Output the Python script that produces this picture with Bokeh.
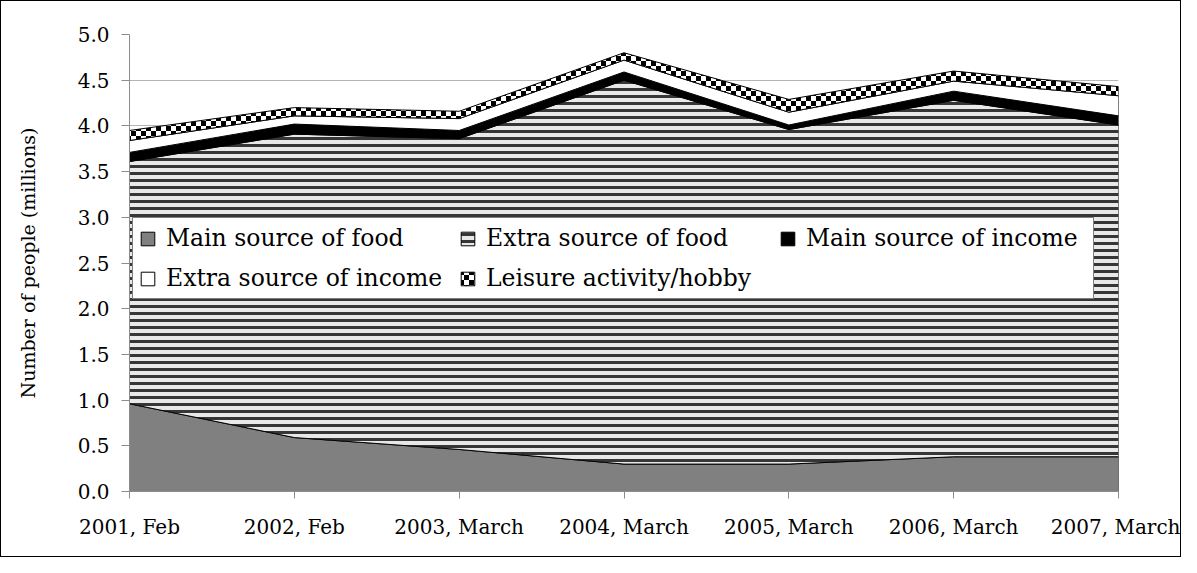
import base64
import numpy as np
from bokeh.plotting import figure
from bokeh.models import (Range1d, FixedTicker, Legend, LegendItem, ImageURLTexture,
                          PrintfTickFormatter)
from bokeh.embed import file_html
from bokeh.resources import INLINE

# ---------------- data ----------------
categories = ["2001, Feb", "2002, Feb", "2003, March", "2004, March",
              "2005, March", "2006, March", "2007, March"]
main_food = [0.96, 0.59, 0.46, 0.30, 0.30, 0.38, 0.38]
extra_food = [2.65, 3.32, 3.40, 4.20, 3.66, 3.90, 3.63]
main_income = [0.10, 0.11, 0.09, 0.09, 0.05, 0.10, 0.10]
extra_income = [0.13, 0.09, 0.13, 0.13, 0.14, 0.11, 0.22]
leisure = [0.11, 0.09, 0.08, 0.08, 0.14, 0.11, 0.10]
series_names = ["Main source of food", "Extra source of food", "Main source of income",
                "Extra source of income", "Leisure activity/hobby"]
y_ticks = [0.0, 0.5, 1.0, 1.5, 2.0, 2.5, 3.0, 3.5, 4.0, 4.5, 5.0]
y_label = "Number of people (millions)"

FONT = "DejaVu Serif"

# checkerboard texture
svg = ("<svg xmlns='http://www.w3.org/2000/svg' width='10' height='10'>"
       "<rect width='10' height='10' fill='white'/>"
       "<rect width='5' height='5' fill='black'/>"
       "<rect x='5' y='5' width='5' height='5' fill='black'/></svg>")
checker_url = "data:image/svg+xml;base64," + base64.b64encode(svg.encode()).decode()

p = figure(width=1181, height=557, x_range=Range1d(0, 6), y_range=Range1d(0, 5),
           output_backend="svg", toolbar_location=None,
           min_border_left=128, min_border_right=64, min_border_top=33, min_border_bottom=67)
p.styles = {"border": "1px solid black"}
p.outline_line_color = None
p.background_fill_color = "white"
p.border_fill_color = "white"

x = np.arange(len(categories))
layers = np.array([main_food, extra_food, main_income, extra_income, leisure])
tops = np.cumsum(layers, axis=0)
bottoms = np.vstack([np.zeros(len(x)), tops[:-1]])

styles = [
    dict(fill_color="#808080"),
    dict(fill_color="#e8e8e8", hatch_pattern="horizontal_line", hatch_color="#363636",
         hatch_scale=7, hatch_weight=3),
    dict(fill_color="black"),
    dict(fill_color="white"),
    dict(fill_color="white", hatch_pattern="checker",
         hatch_extra={"checker": ImageURLTexture(url=checker_url, repetition="repeat")}),
]

items = []
for i, name in enumerate(series_names):
    xs = np.concatenate([x, x[::-1]])
    ys = np.concatenate([tops[i], bottoms[i][::-1]])
    r = p.patch(xs, ys, line_color="black", line_width=1, **styles[i])
    items.append(LegendItem(label=name, renderers=[r]))

# axes
p.xgrid.grid_line_color = None
p.ygrid.grid_line_color = "#b4b4b4"
p.ygrid.grid_line_width = 1
p.ygrid.ticker = FixedTicker(ticks=y_ticks)

p.xaxis.ticker = FixedTicker(ticks=list(x))
p.xaxis.major_label_overrides = {int(i): c for i, c in zip(x, categories)}
p.yaxis.ticker = FixedTicker(ticks=y_ticks)
p.yaxis.formatter = PrintfTickFormatter(format="%.1f")
for ax in (p.xaxis[0], p.yaxis[0]):
    ax.axis_line_color = "#8c8c8c"
    ax.major_tick_line_color = "#8c8c8c"
    ax.minor_tick_line_color = None
    ax.major_tick_in = 0
    ax.major_label_text_font = FONT
    ax.major_label_text_font_size = "20px"
    ax.major_label_text_color = "black"
p.xaxis.major_tick_out = 7
p.xaxis.major_label_standoff = 16
p.yaxis.major_tick_out = 8
p.yaxis.major_label_standoff = 12
p.yaxis.axis_label = y_label
p.yaxis.axis_label_text_font = FONT
p.yaxis.axis_label_text_font_size = "19px"
p.yaxis.axis_label_text_font_style = "normal"
p.yaxis.axis_label_text_color = "black"
p.yaxis.axis_label_standoff = 36

legend = Legend(items=items, location=(3, 192), orientation="horizontal", ncols=3,
                label_text_font=FONT, label_text_font_size="23.5px", label_text_color="black",
                glyph_width=17, glyph_height=17, label_standoff=10,
                label_width=281, label_height=20, spacing=12, padding=6, margin=0,
                border_line_color="black", border_line_width=1,
                background_fill_color="white", background_fill_alpha=1.0)
p.add_layout(legend)

open("out.html", "w").write(file_html(p, INLINE))
